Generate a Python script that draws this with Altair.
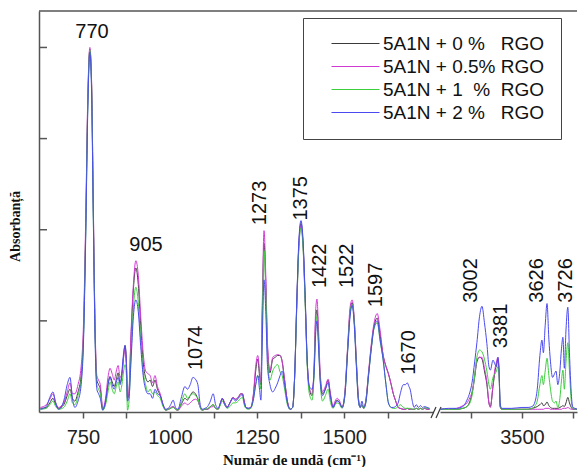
import altair as alt
import pandas as pd

# ---------------- data ----------------
series = [
    "5A1N + 0 %\u00a0\u00a0\u00a0RGO",
    "5A1N + 0.5% RGO",
    "5A1N + 1\u00a0\u00a0%\u00a0\u00a0RGO",
    "5A1N + 2 %\u00a0\u00a0\u00a0RGO",
]
colors = ["#3a3a3a", "#d23ad6", "#3ccf3c", "#4a4af0"]

# left segment (fingerprint region)
wn_left = [628, 645, 655, 664, 672, 680, 695, 705, 713, 720, 727, 736, 745, 752, 758, 764, 770, 775, 780, 785,
           790, 795, 800, 807, 815, 822, 828, 834, 840, 846, 851, 857, 862, 867, 871, 875, 878, 882, 888, 895,
           902, 909, 916, 923, 930, 937, 943, 950, 957, 964, 972, 980, 988, 995, 1002, 1009, 1016, 1023, 1032, 1043,
           1050, 1058, 1066, 1073, 1080, 1086, 1092, 1100, 1108, 1116, 1124, 1131, 1138, 1145, 1150, 1157, 1164, 1172, 1181, 1188,
           1196, 1203, 1208, 1213, 1218, 1225, 1232, 1240, 1246, 1252, 1257, 1261, 1265, 1270, 1275, 1280, 1287, 1295, 1302, 1309,
           1316, 1322, 1329, 1337, 1345, 1352, 1358, 1364, 1370, 1376, 1382, 1388, 1394, 1400, 1408, 1414, 1418, 1422, 1426, 1431,
           1438, 1446, 1454, 1460, 1468, 1474, 1480, 1487, 1494, 1502, 1510, 1517, 1523, 1529, 1535, 1541, 1546, 1551, 1556, 1562,
           1570, 1578, 1586, 1595, 1603, 1612, 1620, 1627, 1635, 1641, 1647, 1655, 1661, 1670, 1676, 1681, 1686, 1690, 1695, 1701,
           1707, 1713, 1719, 1725, 1731, 1738, 1745]
bk_left = [0.04, 0.05, 0.10, 0.15, 0.08, 0.04, 0.08, 0.18, 0.25, 0.15, 0.12, 0.22, 0.40, 0.90, 2.00, 3.40, 3.98, 3.60, 2.20, 0.90,
           0.35, 0.30, 0.25, 0.03, 0.10, 0.30, 0.39, 0.33, 0.28, 0.36, 0.43, 0.32, 0.40, 0.62, 0.73, 0.55, 0.15, 0.20, 0.80, 1.35,
           1.58, 1.40, 0.95, 0.55, 0.38, 0.33, 0.35, 0.28, 0.35, 0.25, 0.18, 0.08, 0.02, 0.03, 0.04, 0.06, 0.03, 0.02, 0.08, 0.15,
           0.13, 0.18, 0.22, 0.20, 0.14, 0.06, 0.02, 0.03, 0.03, 0.06, 0.08, 0.04, 0.03, 0.10, 0.15, 0.10, 0.05, 0.10, 0.16, 0.14,
           0.16, 0.20, 0.20, 0.12, 0.05, 0.04, 0.05, 0.20, 0.45, 0.58, 0.40, 0.30, 1.10, 1.85, 1.40, 0.70, 0.43, 0.58, 0.60, 0.62,
           0.62, 0.55, 0.35, 0.12, 0.03, 0.05, 0.40, 1.20, 1.85, 2.07, 1.85, 1.25, 0.55, 0.25, 0.18, 0.50, 1.00, 1.12, 0.85, 0.40,
           0.20, 0.25, 0.35, 0.20, 0.05, 0.10, 0.13, 0.10, 0.05, 0.20, 0.70, 1.10, 1.20, 1.00, 0.55, 0.15, 0.05, 0.08, 0.04, 0.12,
           0.42, 0.72, 0.95, 1.03, 0.85, 0.62, 0.50, 0.42, 0.30, 0.20, 0.13, 0.05, 0.04, 0.03, 0.03, 0.04, 0.03, 0.03, 0.03, 0.03,
           0.04, 0.03, 0.04, 0.03, 0.04, 0.03, 0.03]
mg_left = [0.05, 0.08, 0.14, 0.20, 0.10, 0.05, 0.10, 0.22, 0.32, 0.20, 0.20, 0.30, 0.50, 1.00, 2.10, 3.45, 4.00, 3.62, 2.25, 0.95,
           0.40, 0.35, 0.30, 0.04, 0.15, 0.38, 0.48, 0.42, 0.35, 0.45, 0.51, 0.38, 0.42, 0.60, 0.70, 0.50, 0.15, 0.22, 0.85, 1.40,
           1.66, 1.50, 1.05, 0.65, 0.45, 0.42, 0.40, 0.32, 0.40, 0.28, 0.20, 0.08, 0.02, 0.03, 0.05, 0.06, 0.03, 0.02, 0.06, 0.10,
           0.08, 0.10, 0.13, 0.14, 0.12, 0.06, 0.02, 0.03, 0.03, 0.05, 0.06, 0.04, 0.03, 0.10, 0.14, 0.10, 0.05, 0.10, 0.16, 0.14,
           0.16, 0.20, 0.20, 0.12, 0.05, 0.04, 0.05, 0.22, 0.50, 0.62, 0.45, 0.32, 1.20, 1.99, 1.50, 0.75, 0.45, 0.60, 0.62, 0.63,
           0.62, 0.56, 0.35, 0.12, 0.03, 0.05, 0.40, 1.18, 1.82, 2.05, 1.82, 1.22, 0.55, 0.27, 0.20, 0.55, 1.10, 1.24, 0.95, 0.45,
           0.22, 0.28, 0.36, 0.22, 0.06, 0.12, 0.15, 0.12, 0.05, 0.22, 0.72, 1.15, 1.23, 1.02, 0.57, 0.15, 0.05, 0.08, 0.04, 0.12,
           0.44, 0.75, 0.98, 1.08, 0.90, 0.62, 0.50, 0.42, 0.30, 0.20, 0.13, 0.05, 0.04, 0.03, 0.03, 0.04, 0.03, 0.03, 0.03, 0.03,
           0.04, 0.03, 0.04, 0.03, 0.04, 0.03, 0.03]
gr_left = [0.03, 0.04, 0.08, 0.12, 0.06, 0.03, 0.05, 0.12, 0.20, 0.10, 0.08, 0.18, 0.35, 0.85, 1.95, 3.35, 3.97, 3.55, 2.10, 0.85,
           0.30, 0.25, 0.20, 0.02, 0.08, 0.22, 0.33, 0.25, 0.20, 0.28, 0.33, 0.22, 0.30, 0.45, 0.52, 0.40, 0.02, 0.10, 0.60, 1.15,
           1.37, 1.20, 0.80, 0.45, 0.30, 0.22, 0.25, 0.20, 0.22, 0.18, 0.15, 0.06, 0.02, 0.03, 0.04, 0.05, 0.03, 0.02, 0.10, 0.20,
           0.15, 0.18, 0.20, 0.18, 0.15, 0.06, 0.02, 0.03, 0.04, 0.06, 0.08, 0.04, 0.03, 0.08, 0.12, 0.08, 0.04, 0.06, 0.10, 0.10,
           0.12, 0.15, 0.16, 0.08, 0.04, 0.03, 0.04, 0.15, 0.30, 0.40, 0.35, 0.25, 1.00, 1.77, 1.30, 0.60, 0.35, 0.45, 0.50, 0.52,
           0.44, 0.40, 0.25, 0.08, 0.03, 0.05, 0.40, 1.15, 1.80, 2.02, 1.80, 1.20, 0.50, 0.20, 0.13, 0.45, 0.90, 1.05, 0.80, 0.35,
           0.12, 0.18, 0.25, 0.12, 0.04, 0.08, 0.10, 0.08, 0.04, 0.18, 0.68, 1.08, 1.18, 0.98, 0.52, 0.12, 0.05, 0.08, 0.04, 0.10,
           0.40, 0.70, 0.92, 0.98, 0.78, 0.57, 0.30, 0.10, 0.05, 0.04, 0.04, 0.06, 0.08, 0.05, 0.04, 0.04, 0.04, 0.04, 0.03, 0.03,
           0.04, 0.03, 0.04, 0.03, 0.05, 0.04, 0.04]
bl_left = [0.03, 0.06, 0.16, 0.22, 0.10, 0.03, 0.12, 0.30, 0.38, 0.15, 0.05, 0.12, 0.30, 0.80, 1.90, 3.30, 3.95, 3.50, 2.10, 0.80,
           0.25, 0.20, 0.15, 0.02, 0.12, 0.30, 0.38, 0.30, 0.25, 0.33, 0.38, 0.30, 0.45, 0.65, 0.73, 0.50, 0.12, 0.15, 0.55, 1.05,
           1.23, 1.10, 0.72, 0.40, 0.25, 0.20, 0.20, 0.15, 0.25, 0.20, 0.18, 0.08, 0.03, 0.04, 0.08, 0.13, 0.05, 0.03, 0.15, 0.28,
           0.25, 0.30, 0.38, 0.36, 0.30, 0.10, 0.03, 0.04, 0.06, 0.12, 0.20, 0.08, 0.04, 0.10, 0.15, 0.08, 0.05, 0.10, 0.15, 0.12,
           0.15, 0.18, 0.19, 0.10, 0.05, 0.04, 0.05, 0.15, 0.30, 0.40, 0.25, 0.13, 0.80, 1.45, 1.10, 0.50, 0.30, 0.22, 0.26, 0.32,
           0.40, 0.45, 0.30, 0.10, 0.03, 0.05, 0.42, 1.22, 1.88, 2.10, 1.88, 1.28, 0.55, 0.28, 0.25, 0.45, 0.85, 1.00, 0.75, 0.35,
           0.18, 0.25, 0.32, 0.18, 0.05, 0.09, 0.12, 0.10, 0.05, 0.18, 0.66, 1.05, 1.17, 0.95, 0.50, 0.12, 0.05, 0.12, 0.05, 0.10,
           0.40, 0.70, 0.93, 1.00, 0.80, 0.57, 0.30, 0.10, 0.05, 0.05, 0.06, 0.10, 0.20, 0.30, 0.30, 0.32, 0.28, 0.24, 0.13, 0.05,
           0.08, 0.05, 0.07, 0.05, 0.06, 0.05, 0.04]

# right segment (O-H / C-H stretching region)
wn_right = [3100, 3140, 3180, 3210, 3230, 3245, 3255, 3268, 3279, 3292, 3304, 3316, 3328, 3338, 3345, 3358, 3368, 3375, 3382, 3388,
            3393, 3400, 3450, 3500, 3530, 3550, 3565, 3575, 3588, 3598, 3605, 3614, 3623, 3632, 3640, 3650, 3660, 3667, 3676, 3686,
            3694, 3701, 3708, 3716, 3725, 3733, 3742, 3750, 3760, 3770]
bk_right = [0.03, 0.03, 0.03, 0.04, 0.06, 0.12, 0.20, 0.38, 0.55, 0.60, 0.58, 0.45, 0.30, 0.10, 0.06, 0.28, 0.45, 0.52, 0.58, 0.40,
            0.06, 0.03, 0.03, 0.03, 0.03, 0.04, 0.05, 0.06, 0.08, 0.10, 0.07, 0.08, 0.11, 0.07, 0.05, 0.04, 0.04, 0.04, 0.04, 0.05,
            0.06, 0.07, 0.06, 0.10, 0.16, 0.10, 0.05, 0.03, 0.03, 0.03]
mg_right = [0.03, 0.03, 0.04, 0.07, 0.10, 0.16, 0.22, 0.40, 0.57, 0.60, 0.60, 0.48, 0.33, 0.10, 0.05, 0.30, 0.48, 0.55, 0.60, 0.42,
            0.06, 0.03, 0.03, 0.03, 0.03, 0.03, 0.03, 0.03, 0.03, 0.03, 0.03, 0.04, 0.04, 0.04, 0.03, 0.03, 0.03, 0.03, 0.03, 0.03,
            0.03, 0.04, 0.04, 0.04, 0.05, 0.04, 0.03, 0.03, 0.03, 0.03]
gr_right = [0.03, 0.03, 0.03, 0.04, 0.06, 0.10, 0.18, 0.40, 0.60, 0.68, 0.66, 0.58, 0.45, 0.30, 0.25, 0.38, 0.42, 0.45, 0.50, 0.40,
            0.08, 0.03, 0.03, 0.03, 0.03, 0.04, 0.07, 0.12, 0.30, 0.40, 0.30, 0.45, 0.59, 0.40, 0.25, 0.12, 0.10, 0.12, 0.05, 0.15,
            0.35, 0.46, 0.25, 0.55, 0.76, 0.45, 0.12, 0.04, 0.03, 0.03]
bl_right = [0.03, 0.04, 0.04, 0.06, 0.13, 0.22, 0.32, 0.55, 0.76, 1.05, 1.16, 0.98, 0.75, 0.50, 0.46, 0.57, 0.52, 0.50, 0.60, 0.45,
            0.10, 0.04, 0.04, 0.05, 0.05, 0.06, 0.12, 0.25, 0.62, 0.79, 0.65, 0.95, 1.19, 0.80, 0.55, 0.38, 0.42, 0.45, 0.30, 0.45,
            0.70, 0.82, 0.48, 0.90, 1.15, 0.65, 0.20, 0.05, 0.04, 0.03]

# peak annotations: text, wavenumber position, absorbance position
lab_h_text = ["770", "905"]
lab_h_w = [776, 931]
lab_h_a = [4.10, 1.77]
lab_l_text = ["1074", "1273", "1375", "1422", "1522", "1597", "1670"]
lab_l_w = [1075, 1259, 1376, 1431, 1509, 1592, 1687]
lab_l_a = [0.46, 2.05, 2.10, 1.36, 1.36, 1.15, 0.41]
lab_r_text = ["3002", "3381", "3626", "3726"]
lab_r_w = [3250, 3397, 3574, 3716]
lab_r_a = [1.20, 0.70, 1.20, 1.20]

y_ticks = [1, 2, 3, 4]
x_ticks_left = [750, 875, 1000, 1125, 1250, 1375, 1500, 1625]
x_ticks_right = [3250, 3500, 3750]
x_dom_left = [624, 1755]
x_dom_right = [3098, 3770]
y_dom = [0, 4.4]

# ---------------- build tables ----------------
def long(wn, cols):
    rows = []
    for s, vals in zip(series, cols):
        for w, v in zip(wn, vals):
            rows.append({"w": w, "a": v, "s": s})
    return pd.DataFrame(rows)

df_left = long(wn_left, [bk_left, mg_left, gr_left, bl_left])
df_right = long(wn_right, [bk_right, mg_right, gr_right, bl_right])

W_L, W_R, H, GAP = 394, 137, 401, 7
AX = "#555555"
SANS = "Liberation Sans"
SERIF = "Liberation Serif"

y_scale = alt.Scale(domain=y_dom, nice=False, zero=False)
c_scale = alt.Scale(domain=series, range=colors)
xl_scale = alt.Scale(domain=x_dom_left, nice=False, zero=False)
xr_scale = alt.Scale(domain=x_dom_right, nice=False, zero=False)

legend = alt.Legend(
    title=None, orient="none", legendX=264, legendY=7,
    symbolType="M-1,0H5", symbolSize=256, symbolStrokeWidth=1,
    symbolOffset=11, labelOffset=34,
    labelFont=SANS, labelFontSize=19, labelColor="#111111", labelLimit=400,
    strokeColor="#444444", padding=16, rowPadding=3,
)

y_axis_left = alt.Axis(values=[0, 1, 2, 3, 4], labels=False, ticks=False, grid=False,
                       domainColor=AX, domainWidth=1.5,
                       title="Absorbanță", titleFont=SERIF, titleFontSize=14, titleFontWeight="bold",
                       titleColor="#111111", titleAngle=270, titleX=-24, titleY=215,
                       titleAlign="center", titleBaseline="middle", titleAnchor="start")
x_axis_left = alt.Axis(values=x_ticks_left, format="d", grid=False,
                       labelExpr="datum.value % 250 == 0 ? datum.label : ''",
                       labelFont=SANS, labelFontSize=20, labelColor="#222222", labelPadding=9,
                       tickSize=6, tickColor=AX, tickWidth=1.5, domainColor=AX, domainWidth=1.5,
                       title="Număr de undă (cm⁻¹)", titleFont=SERIF, titleFontSize=15,
                       titleFontWeight="bold", titleColor="#111111",
                       titleX=255, titleY=52, titleAlign="center", titleBaseline="alphabetic",
                       titleAnchor="start")

# ---- left panel ----
left_lines = alt.Chart(df_left).mark_line(strokeWidth=1, interpolate="monotone", clip=True).encode(
    x=alt.X("w:Q", scale=xl_scale, axis=x_axis_left),
    y=alt.Y("a:Q", scale=y_scale, axis=y_axis_left),
    color=alt.Color("s:N", scale=c_scale, sort=series, legend=legend),
)

tick_df = pd.DataFrame({"a": y_ticks})
in_ticks = alt.Chart(tick_df).mark_rule(color=AX, strokeWidth=1.5).encode(
    y=alt.Y("a:Q", scale=y_scale, axis=y_axis_left),
    x=alt.value(0), x2=alt.value(8),
)
one = pd.DataFrame({"k": [0]})
top_left = alt.Chart(one).mark_rule(color=AX, strokeWidth=1.5).encode(
    x=alt.value(0), x2=alt.value(W_L + GAP), y=alt.value(0))
slash1 = alt.Chart(one).mark_rule(color="#333333", strokeWidth=1.2).encode(
    x=alt.value(W_L - 2), x2=alt.value(W_L + 3), y=alt.value(H + 6), y2=alt.value(H - 5))
slash2 = alt.Chart(one).mark_rule(color="#333333", strokeWidth=1.2).encode(
    x=alt.value(W_L + 3), x2=alt.value(W_L + 8), y=alt.value(H + 6), y2=alt.value(H - 5))

lab_h_df = pd.DataFrame({"t": lab_h_text, "w": lab_h_w, "a": lab_h_a})
lab_h = alt.Chart(lab_h_df).mark_text(font=SANS, fontSize=20, color="#111111", align="center",
                                      baseline="alphabetic").encode(
    x=alt.X("w:Q", scale=xl_scale, axis=x_axis_left),
    y=alt.Y("a:Q", scale=y_scale, axis=y_axis_left), text="t:N")
lab_l_df = pd.DataFrame({"t": lab_l_text, "w": lab_l_w, "a": lab_l_a})
lab_l = alt.Chart(lab_l_df).mark_text(font=SANS, fontSize=20, color="#111111", align="left",
                                      baseline="middle", angle=270).encode(
    x=alt.X("w:Q", scale=xl_scale, axis=x_axis_left),
    y=alt.Y("a:Q", scale=y_scale, axis=y_axis_left), text="t:N")

left = alt.layer(left_lines, in_ticks, top_left, slash1, slash2, lab_h, lab_l).properties(width=W_L, height=H)

# ---- right panel ----
x_axis_right = alt.Axis(values=x_ticks_right, format="d", grid=False,
                        labelExpr="datum.value == 3500 ? datum.label : ''",
                        labelFont=SANS, labelFontSize=20, labelColor="#222222", labelPadding=9,
                        tickSize=6, tickColor=AX, tickWidth=1.5, domainColor=AX, domainWidth=1.5,
                        title=None)
right_lines = alt.Chart(df_right).mark_line(strokeWidth=1, interpolate="monotone", clip=True).encode(
    x=alt.X("w:Q", scale=xr_scale, axis=x_axis_right),
    y=alt.Y("a:Q", scale=y_scale, axis=None),
    color=alt.Color("s:N", scale=c_scale, sort=series, legend=legend),
)
top_right = alt.Chart(one).mark_rule(color=AX, strokeWidth=1.5).encode(
    x=alt.value(0), x2=alt.value(W_R), y=alt.value(0))
lab_r_df = pd.DataFrame({"t": lab_r_text, "w": lab_r_w, "a": lab_r_a})
lab_r = alt.Chart(lab_r_df).mark_text(font=SANS, fontSize=20, color="#111111", align="left",
                                      baseline="middle", angle=270).encode(
    x=alt.X("w:Q", scale=xr_scale, axis=x_axis_right),
    y=alt.Y("a:Q", scale=y_scale, axis=None), text="t:N")

right = alt.layer(right_lines, top_right, lab_r).properties(width=W_R, height=H)

chart = alt.hconcat(left, right, spacing=GAP, bounds="flush").resolve_scale(
    x="independent", y="shared", color="shared"
).resolve_axis(y="independent").properties(
    padding={"left": 8, "top": 10, "right": 0, "bottom": 0},
    background="white",
).configure_view(stroke=None)

chart.save("out.html", embed_options={"renderer": "svg", "actions": False})
